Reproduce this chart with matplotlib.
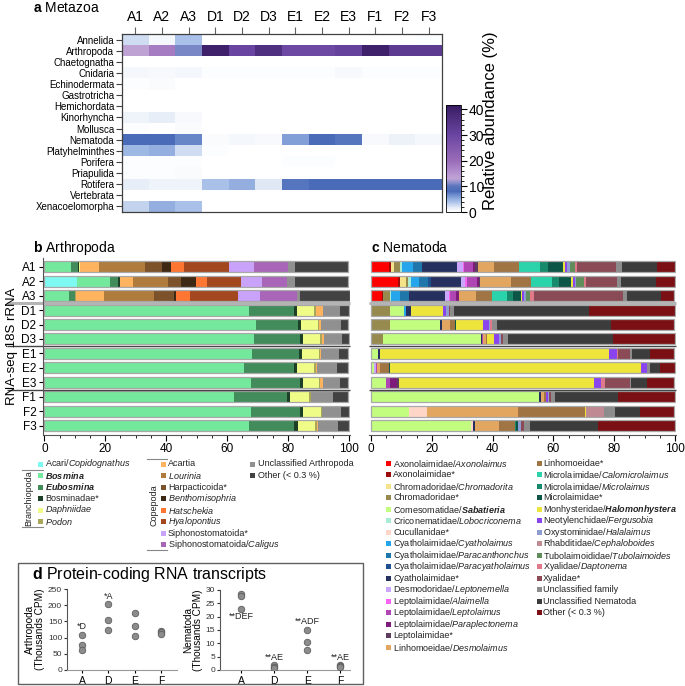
#!/usr/bin/env python3
"""
Metazoa / Arthropoda / Nematoda composition figure (heatmap, stacked bars,
protein-coding transcript dot plots).
"""

import numpy as np
import matplotlib
matplotlib.use('Agg')
import matplotlib.pyplot as plt
from matplotlib.colors import LinearSegmentedColormap
from matplotlib.patches import Rectangle
from matplotlib.ticker import MultipleLocator
import matplotlib.transforms as mtransforms

plt.rcParams['font.family'] = ['Liberation Sans', 'DejaVu Sans']
plt.rcParams['mathtext.fontset'] = 'custom'
plt.rcParams['mathtext.rm'] = 'Liberation Sans'
plt.rcParams['mathtext.it'] = 'Liberation Sans:italic'
plt.rcParams['mathtext.bf'] = 'Liberation Sans:bold'
try:
    plt.rcParams['mathtext.bfit'] = 'Liberation Sans:bold:italic'
except KeyError:
    pass

# ---------------------------------------------------------------- data
samples = ['A1', 'A2', 'A3', 'D1', 'D2', 'D3', 'E1', 'E2', 'E3', 'F1', 'F2', 'F3']

phyla = ['Annelida', 'Arthropoda', 'Chaetognatha', 'Cnidaria', 'Echinodermata',
         'Gastrotricha', 'Hemichordata', 'Kinorhyncha', 'Mollusca', 'Nematoda',
         'Platyhelminthes', 'Porifera', 'Priapulida', 'Rotifera', 'Vertebrata',
         'Xenacoelomorpha']

# relative abundance (%) per phylum, columns follow `samples`
metazoa_pct = [
    [2.5, 0.8, 4.0, 0, 0, 0, 0, 0, 0, 0, 0, 0.3],
    [13, 18, 11, 40, 30, 36, 29, 29, 31, 40, 33, 33],
    [0, 0, 0, 0, 0, 0, 0, 0, 0, 0, 0, 0],
    [0.8, 0.6, 0.7, 0.2, 0.3, 0.3, 0.2, 0.2, 0.5, 0.2, 0.2, 0.2],
    [0.3, 0.4, 0.1, 0, 0, 0, 0, 0, 0, 0, 0, 0],
    [0, 0, 0, 0, 0, 0, 0, 0, 0, 0, 0, 0],
    [0, 0.1, 0, 0, 0, 0, 0, 0, 0, 0, 0, 0],
    [1.0, 1.6, 0.6, 0, 0, 0, 0, 0, 0, 0, 0, 0],
    [0.3, 0, 0.4, 0, 0, 0, 0, 0, 0, 0, 0, 0],
    [8.0, 8.0, 7.0, 0.4, 0.8, 0.6, 5.8, 8.0, 7.5, 0.5, 1.3, 0.7],
    [4.5, 5.0, 2.5, 0.3, 0, 0, 0, 0, 0, 0, 0, 0],
    [0.2, 0.2, 0.2, 0, 0, 0, 0.3, 0.2, 0, 0, 0, 0],
    [0.3, 0.3, 0.4, 0, 0, 0, 0, 0, 0, 0, 0, 0],
    [1.5, 1.0, 1.0, 4.0, 5.0, 1.8, 7.5, 8.0, 8.0, 8.0, 8.0, 8.0],
    [0, 0, 0, 0, 0, 0, 0, 0, 0, 0, 0, 0],
    [3.0, 5.0, 4.0, 0, 0, 0, 0, 0, 0, 0, 0, 0],
]

arth_labels = ['Acari/$\\mathit{Copidognathus}$', '$\\mathbfit{Bosmina}$',
               '$\\mathbfit{Eubosmina}$', 'Bosminadae*', '$\\mathit{Daphniidae}$',
               '$\\mathit{Podon}$', 'Acartia', '$\\mathit{Lourinia}$', 'Harpacticoida*',
               '$\\mathit{Benthomisophria}$', '$\\mathit{Hatschekia}$',
               '$\\mathit{Hyalopontius}$', 'Siphonostomatoida*',
               'Siphonostomatoida/$\\mathit{Caligus}$', 'Unclassified Arthropoda',
               'Other (< 0.3 %)']
arth_colors = ['#7ef9f1', '#74e89c', '#428c5c', '#1d3f25', '#f0fc88', '#a9a85a',
               '#feb35f', '#b07c3e', '#7b5229', '#3d2913', '#ff7632', '#a3471f',
               '#c9a2fa', '#a966b8', '#909090', '#424242']

# Arthropoda composition (%) per sample, order = arth_labels
arth_A1 = [0, 8.8, 2.3, 0.3, 0.3, 0, 6.1, 15.4, 5.3, 3.1, 4.2, 14.8, 8.3, 11.3, 2.1, 17.6]
arth_A2 = [10.8, 10.8, 2.7, 0.4, 0, 0, 4.3, 11.6, 4.4, 4.7, 3.7, 11.3, 6.8, 8.2, 2.8, 17.3]
arth_A3 = [0, 8.1, 1.9, 0.2, 0, 0.3, 9.1, 16.4, 6.6, 0.8, 4.4, 15.7, 7.2, 12.3, 0.9, 16.4]
arth_D1 = [0, 67.4, 14.5, 1.1, 5.5, 0.7, 2.2, 0, 0, 0, 0, 0, 0, 0, 5.9, 2.8]
arth_D2 = [0, 69.4, 14.0, 0.9, 5.7, 0.3, 0.5, 0, 0, 0, 0, 0, 0, 0, 6.6, 2.5]
arth_D3 = [0, 69.0, 15.0, 1.0, 5.6, 0.5, 0.8, 0, 0, 0, 0, 0, 0, 0, 6.0, 2.1]
arth_E1 = [0, 68.2, 15.4, 1.0, 5.5, 0.4, 0.3, 0, 0, 0, 0, 0, 0, 0, 5.9, 3.2]
arth_E2 = [0, 65.6, 16.4, 1.0, 5.7, 0.4, 0.5, 0, 0, 0, 0, 0, 0, 0, 6.5, 3.8]
arth_E3 = [0, 67.9, 16.1, 1.1, 5.0, 0.4, 1.1, 0, 0, 0, 0, 0, 0, 0, 5.5, 2.8]
arth_F1 = [0, 62.3, 17.4, 1.1, 6.2, 0.5, 0, 0, 0, 0, 0, 0, 0, 0, 7.2, 5.1]
arth_F2 = [0, 67.9, 16.1, 0.9, 6.0, 0.2, 0, 0, 0, 0, 0, 0, 0, 0, 6.4, 2.5]
arth_F3 = [0, 67.4, 14.7, 1.1, 5.7, 0.7, 0.3, 0, 0, 0, 0, 0, 0, 0, 6.6, 3.7]

nem_labels = ['Axonolaimidae/$\\mathit{Axonolaimus}$', 'Axonolaimidae*',
              'Chromadoridae/$\\mathit{Chromadorita}$', 'Chromadoridae*',
              'Comesomatidae/$\\mathbfit{Sabatieria}$',
              'Criconematidae/$\\mathit{Lobocriconema}$', 'Cucullanidae*',
              'Cyatholaimidae/$\\mathit{Cyatholaimus}$',
              'Cyatholaimidae/$\\mathit{Paracanthonchus}$',
              'Cyatholaimidae/$\\mathit{Paracyatholaimus}$', 'Cyatholaimidae*',
              'Desmodoridae/$\\mathit{Leptonemella}$', 'Leptolaimidae/$\\mathit{Alaimella}$',
              'Leptolaimidae/$\\mathit{Leptolaimus}$',
              'Leptolaimidae/$\\mathit{Paraplectonema}$', 'Leptolaimidae*',
              'Linhomoeidae/$\\mathit{Desmolaimus}$', 'Linhomoeidae*',
              'Microlaimidae/$\\mathit{Calomicrolaimus}$',
              'Microlaimidae/$\\mathit{Microlaimus}$', 'Microlaimidae*',
              'Monhysteridae/$\\mathbfit{Halomonhystera}$',
              'Neotylenchidae/$\\mathit{Fergusobia}$', 'Oxystominidae/$\\mathit{Halalaimus}$',
              'Rhabditidae/$\\mathit{Cephaloboides}$',
              'Tubolaimoididae/$\\mathit{Tubolaimoides}$', 'Xyalidae/$\\mathit{Daptonema}$',
              'Xyalidae*', 'Unclassified family', 'Unclassified Nematoda',
              'Other (< 0.3 %)']
nem_colors = ['#ff0000', '#9e0b0b', '#f5e38c', '#978a4e', '#c2fd7f', '#a8ecd6',
              '#ffd5c8', '#25a6ec', '#1f76ab', '#1e4f8e', '#26305e', '#caa6fd',
              '#f766f2', '#b045b4', '#7d1c7b', '#5d3d5e', '#e3a661', '#a07443',
              '#2bd3ab', '#168a6a', '#0d5647', '#ede53c', '#8a44ed', '#8d9dd2',
              '#c08a92', '#5f8e5c', '#e07a8a', '#8a4a56', '#8c8c8c', '#3c3c3c',
              '#7b1014']

# Nematoda composition (%) per sample, order = nem_labels
nem_A1 = [6.0, 0.5, 0.9, 2.0, 0, 0.9, 0, 3.6, 3.0, 0, 11.3, 1.9, 0.5, 2.9, 0.8, 0.9,
          5.4, 8.1, 7.0, 2.6, 4.7, 0.7, 0.7, 0.9, 0, 1.8, 0.6, 12.9, 2.0, 11.5, 6.0]
nem_A2 = [9.0, 0.6, 2.0, 0.7, 0, 0.9, 0, 2.6, 2.9, 0.9, 10.0, 1.2, 0.7, 3.3, 0.6, 0.6,
          10.0, 6.7, 6.7, 2.4, 4.1, 0.5, 0.7, 0.4, 0, 2.6, 0.5, 10.3, 1.5, 11.5, 6.0]
nem_A3 = [3.7, 0.4, 0, 2.0, 0, 0.6, 0, 2.9, 2.9, 0, 11.8, 1.3, 0.5, 2.0, 0.9, 0,
          5.7, 5.0, 4.9, 2.0, 2.6, 0.4, 0.7, 0.6, 0, 1.5, 1.3, 29.1, 1.3, 11.3, 4.4]
nem_D1 = [0, 0, 0.2, 6.2, 4.4, 0, 0, 0.8, 0, 0, 1.4, 0, 0, 0, 0, 0,
          0, 0, 0, 0, 0, 10.6, 1.2, 0.8, 0, 0, 0, 0.5, 1.1, 44.6, 28.2]
nem_D2 = [0, 0, 0, 6.2, 16.6, 0, 0, 0, 0, 0, 0.4, 0, 0, 0, 0, 0,
          2.7, 1.6, 0, 0, 0.5, 8.8, 1.9, 0.6, 0, 0, 0.5, 0, 1.6, 37.7, 20.6]
nem_D3 = [0, 0, 0, 4.1, 32.0, 0, 0, 0, 0, 0, 0.5, 0, 0, 0.4, 0, 0,
          0.7, 0.5, 0, 0, 0, 2.2, 1.6, 0.8, 0, 0, 0, 0.6, 1.5, 34.6, 20.5]
nem_E1 = [0, 0, 0, 0, 2.2, 0, 0, 0, 0, 0, 0.6, 0, 0, 0, 0, 0,
          0, 0, 0, 0, 0, 75.5, 2.6, 0, 0, 0, 0.5, 3.8, 0.7, 5.9, 8.0]
nem_E2 = [0, 0, 0, 0, 1.1, 0, 0, 0, 0, 0, 0, 0.5, 0, 0.4, 0, 0,
          0.9, 3.0, 0, 0, 0.4, 82.5, 2.0, 0, 0, 0, 0, 0, 1.0, 3.3, 4.9]
nem_E3 = [0, 0, 0, 0, 4.9, 0, 0, 0, 0, 0, 0, 0, 0, 1.4, 2.4, 0.4,
          0, 0, 0, 0, 0, 64.1, 2.5, 0, 0, 0, 1.3, 8.2, 0.3, 5.3, 9.0]
nem_F1 = [0, 0, 0, 0, 55.2, 0, 0, 0, 0, 0, 0.7, 0, 0, 0, 0, 0,
          1.1, 0.5, 0, 0, 0, 0, 0.7, 0.5, 0, 0, 0, 0.5, 1.3, 20.8, 18.6]
nem_F2 = [0, 0, 0, 0, 12.6, 0, 5.9, 0, 0, 0, 0, 0, 0, 0, 0, 0,
          29.8, 22.0, 0, 0, 0, 0.5, 0, 0, 5.8, 0, 0, 0, 3.8, 8.0, 11.2]
nem_F3 = [0, 0, 0, 0, 32.9, 0, 0.8, 0, 0, 0, 0.5, 0, 0, 0, 0, 0,
          7.9, 5.2, 0, 0.5, 0.4, 0, 0, 1.3, 0, 0, 0, 0.9, 2.0, 22.3, 25.2]

# protein-coding transcripts (thousands CPM), three replicates per site
sites = ['A', 'D', 'E', 'F']
arth_cpm = [[108, 77, 62], [203, 155, 125], [177, 135, 105], [120, 116, 112]]
nem_cpm = [[28.6, 27.9, 22.9], [1.8, 1.2, 0.8], [15.0, 10.5, 7.4], [2.0, 1.5, 1.2]]
arth_sig = ['*D', '*A', '', '']
arth_sig_y = [133, 226, None, None]
nem_sig = ['**DEF', '**AE', '**ADF', '**AE']
nem_sig_y = [20.0, 4.6, 18.3, 4.6]

# ---------------------------------------------------------------- layout helpers
W, H = 685, 686
fig = plt.figure(figsize=(W / 100, H / 100), dpi=100)


def fx(x):
    return x / W


def fy(y):
    return 1 - y / H


def add_px(left, top, right, bottom):
    return fig.add_axes([fx(left), fy(bottom), (right - left) / W, (bottom - top) / H])


def panel_title(x, y, letter, text, size):
    fig.text(fx(x), fy(y), '$\\mathbf{%s}$ %s' % (letter, text), fontsize=size,
             va='center', ha='left')


def legend_item(xm, xt, y, color, label):
    s = 5.0
    fig.add_artist(Rectangle((fx(xm), fy(y + s / 2)), s / W, s / H,
                             transform=fig.transFigure, facecolor=color,
                             edgecolor='none'))
    fig.text(fx(xt), fy(y), label, fontsize=6.5, va='center', ha='left',
             color='#222222')


# ---------------------------------------------------------------- a: heatmap
cmap = LinearSegmentedColormap.from_list('metazoa', [
    (0.0, '#ffffff'), (1.5 / 41.7, '#e8eef8'), (4 / 41.7, '#a8c0e8'),
    (6 / 41.7, '#7c9ad6'), (8 / 41.7, '#4a6cb8'), (10 / 41.7, '#5a74bc'),
    (11 / 41.7, '#7c88c8'), (13 / 41.7, '#c0a4d4'), (16 / 41.7, '#b08ccc'),
    (20 / 41.7, '#9a6cb8'), (30 / 41.7, '#6a46a2'), (1.0, '#381c62')])

ax_a = add_px(122, 34, 442, 212)
im = ax_a.imshow(np.array(metazoa_pct), cmap=cmap, vmin=0, vmax=41.7,
                 aspect='auto', interpolation='nearest')
ax_a.xaxis.tick_top()
ax_a.set_xticks(range(len(samples)))
ax_a.set_xticklabels(samples, fontsize=10)
ax_a.set_yticks(range(len(phyla)))
ax_a.set_yticklabels(phyla, fontsize=7)
ax_a.tick_params(axis='x', length=5, color='#606060', pad=2)
ax_a.tick_params(axis='y', length=4, color='#404040', pad=1.5)
for sp in ax_a.spines.values():
    sp.set_color('#404040')
    sp.set_linewidth(0.9)

cax = add_px(446, 105, 461, 212)
cb = fig.colorbar(im, cax=cax)
cb.set_ticks([0, 10, 20, 30, 40])
cax.yaxis.set_minor_locator(MultipleLocator(2))
cax.tick_params(which='major', labelsize=10, length=4, pad=1.5)
cax.tick_params(which='minor', length=2)
cb.outline.set_linewidth(0.6)
fig.text(fx(491), fy(121), 'Relative abundance (%)', rotation=90, fontsize=12,
         va='center', ha='center')
panel_title(33, 8, 'a', 'Metazoa', 10)


# ---------------------------------------------------------------- b, c: stacked bars
def stacked(ax, rows, colors, left_ext):
    for i, row in enumerate(rows):
        start = 0
        for v, c in zip(row, colors):
            if v > 0:
                ax.barh(i, v, left=start, height=0.76, color=c, linewidth=0)
            start += v
        ax.barh(i, start, height=0.76, fill=False, edgecolor='#a8a8a8', linewidth=0.9)
    ax.set_xlim(-0.6, 100.3)
    ax.set_ylim(11.64, -0.6)
    ax.set_xticks([0, 20, 40, 60, 80, 100])
    ax.xaxis.set_minor_locator(MultipleLocator(5))
    ax.tick_params(axis='x', which='major', labelsize=8.5, length=4, pad=2)
    ax.tick_params(axis='x', which='minor', length=2)
    for sp in ['top', 'right']:
        ax.spines[sp].set_visible(False)
    ax.spines['bottom'].set_color('#555555')
    trans = mtransforms.blended_transform_factory(ax.transAxes, ax.transData)
    ax.plot([left_ext, 1], [2.5, 2.5], transform=trans, color='#b4b4b4', lw=2.2,
            clip_on=False, solid_capstyle='butt')
    for yy in (5.5, 8.5):
        ax.plot([left_ext, 1], [yy, yy], transform=trans, color='#454545', lw=1.0,
                clip_on=False, solid_capstyle='butt')


arth_rows = [arth_A1, arth_A2, arth_A3, arth_D1, arth_D2, arth_D3,
             arth_E1, arth_E2, arth_E3, arth_F1, arth_F2, arth_F3]
nem_rows = [nem_A1, nem_A2, nem_A3, nem_D1, nem_D2, nem_D3,
            nem_E1, nem_E2, nem_E3, nem_F1, nem_F2, nem_F3]

ax_b = add_px(42.5, 258, 349.6, 435)
stacked(ax_b, arth_rows, arth_colors, -0.115)
ax_b.set_yticks(range(len(samples)))
ax_b.set_yticklabels(samples, fontsize=8.5)
ax_b.tick_params(axis='y', length=3, pad=1.5)
ax_b.spines['left'].set_color('#555555')
fig.text(fx(12), fy(346), 'RNA-seq 18S rRNA', rotation=90, fontsize=9.5,
         va='center', ha='center')
panel_title(33, 248, 'b', 'Arthropoda', 10)

ax_c = add_px(369.2, 258, 675.9, 435)
stacked(ax_c, nem_rows, nem_colors, 0.0)
ax_c.set_yticks([])
ax_c.spines['left'].set_visible(False)
panel_title(371, 248, 'c', 'Nematoda', 10)

# legends for b
row_h = 11.5
for k in range(6):
    legend_item(37.7, 45, 464 + k * row_h, arth_colors[k], arth_labels[k])
for k in range(6, 14):
    legend_item(160.7, 168, 464 + (k - 6) * row_h, arth_colors[k], arth_labels[k])
for k in range(14, 16):
    legend_item(250, 258, 464 + (k - 14) * row_h, arth_colors[k], arth_labels[k])

for y0 in (469.5, 527):
    fig.add_artist(plt.Line2D([fx(22), fx(43)], [fy(y0), fy(y0)], color='#888888', lw=0.8))
fig.text(fx(29), fy(498), 'Branchiopoda', rotation=90, fontsize=6.5, va='center',
         ha='center', color='#222222')
for y0 in (459, 550):
    fig.add_artist(plt.Line2D([fx(147), fx(167)], [fy(y0), fy(y0)], color='#888888', lw=0.8))
fig.text(fx(154), fy(505), 'Copepoda', rotation=90, fontsize=6.5, va='center',
         ha='center', color='#222222')

# legends for c
for k in range(17):
    legend_item(386, 393, 463.3 + k * row_h, nem_colors[k], nem_labels[k])
for k in range(17, 31):
    legend_item(536.7, 543, 463.3 + (k - 17) * row_h, nem_colors[k], nem_labels[k])

# ---------------------------------------------------------------- d: dot plots
fig.add_artist(Rectangle((fx(18), fy(684)), (363 - 18) / W, (684 - 563) / H,
                         transform=fig.transFigure, fill=False,
                         edgecolor='#606060', linewidth=1.0))
panel_title(32, 575, 'd', 'Protein-coding RNA transcripts', 11.5)


def dot_panel(ax, values, labels, label_y, xlim, ymax, ystep, ylabel):
    for i, reps in enumerate(values):
        ax.scatter([i] * len(reps), reps, s=22, color='#8c8c8c',
                   edgecolor='#5e5e5e', linewidth=0.6, zorder=3)
        if labels[i]:
            ax.text(i, label_y[i], labels[i], fontsize=6.5, ha='center',
                    va='center', color='#222222')
    ax.set_xlim(*xlim)
    ax.set_ylim(0, ymax)
    ax.set_xticks(range(len(sites)))
    ax.set_xticklabels(sites, fontsize=7.5)
    ax.set_yticks(np.arange(0, ymax + 0.1, ystep))
    ax.tick_params(axis='y', labelsize=6, length=2.5, pad=1, colors='#333333')
    ax.tick_params(axis='x', length=2.5, pad=2)
    ax.set_ylabel(ylabel, fontsize=7.2, labelpad=2, linespacing=1.0)
    for sp in ['top', 'right']:
        ax.spines[sp].set_visible(False)
    ax.spines['left'].set_color('#555555')
    ax.spines['bottom'].set_color('#999999')


ax_d1 = add_px(67, 589, 177, 670)
dot_panel(ax_d1, arth_cpm, arth_sig, arth_sig_y, (-0.57, 3.61), 250, 50,
          'Arthropoda\n(Thousands CPM)')
ax_d2 = add_px(220, 590, 350, 670)
dot_panel(ax_d2, nem_cpm, nem_sig, nem_sig_y, (-0.64, 3.3), 30, 5,
          'Nematoda\n(Thousands CPM)')

fig.savefig('out.png', dpi=100, facecolor='white')
